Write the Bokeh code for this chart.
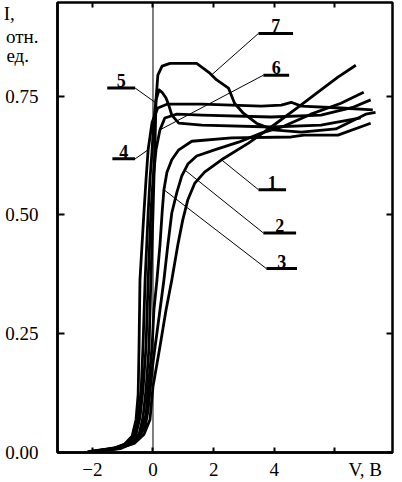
import numpy as np
from bokeh.plotting import figure
from bokeh.models import Range1d, FixedTicker, LinearAxis, Span
from bokeh.core.properties import value
from bokeh.embed import file_html
from bokeh.resources import INLINE

# ---- data: current-voltage curves (V in volts, I in relative units) ----
x1 = [-2.00, -1.18, -0.62, -0.30, -0.10, 0.00, 0.23, 0.43, 0.62, 0.82, 0.98, 1.15, 1.38, 1.70, 2.26, 3.15, 3.90, 4.79, 5.54, 6.10, 6.69]
y1 = [0.002, 0.008, 0.019, 0.038, 0.069, 0.139, 0.223, 0.300, 0.363, 0.437, 0.489, 0.532, 0.567, 0.590, 0.616, 0.651, 0.685, 0.727, 0.763, 0.790, 0.815]

x2 = [-2.00, -1.08, -0.52, -0.26, -0.16, -0.03, 0.07, 0.23, 0.36, 0.49, 0.62, 0.79, 0.95, 1.15, 1.44, 2.03, 2.82, 3.57, 4.33, 5.21, 6.20, 6.95]
y2 = [0.002, 0.011, 0.027, 0.053, 0.090, 0.174, 0.223, 0.300, 0.363, 0.437, 0.504, 0.548, 0.582, 0.607, 0.624, 0.637, 0.653, 0.672, 0.687, 0.712, 0.735, 0.758]

x3 = [-2.07, -1.18, -0.69, -0.39, -0.23, -0.13, -0.03, 0.03, 0.13, 0.23, 0.30, 0.36, 0.46, 0.62, 0.85, 1.28, 2.59, 4.56, 4.98, 6.10, 7.18]
y3 = [0.002, 0.011, 0.023, 0.044, 0.080, 0.153, 0.223, 0.300, 0.363, 0.437, 0.504, 0.553, 0.590, 0.616, 0.637, 0.655, 0.662, 0.664, 0.668, 0.668, 0.693]

x4 = [-2.16, -1.34, -0.95, -0.69, -0.56, -0.49, -0.46, -0.43, -0.30, -0.23, -0.16, -0.03, 0.16, 0.46, 1.61, 3.57, 4.23, 4.56, 4.89, 6.20, 7.25]
y4 = [0.002, 0.008, 0.017, 0.034, 0.069, 0.122, 0.223, 0.363, 0.504, 0.574, 0.637, 0.695, 0.725, 0.733, 0.733, 0.729, 0.731, 0.737, 0.729, 0.725, 0.721]

x5 = [-2.07, -1.28, -0.85, -0.62, -0.49, -0.39, -0.33, -0.26, -0.16, -0.10, -0.03, 0.03, 0.10, 0.20, 0.30, 0.43, 0.52, 0.62, 0.85, 1.61, 3.90, 5.54, 6.85]
y5 = [0.002, 0.008, 0.019, 0.038, 0.074, 0.132, 0.223, 0.363, 0.504, 0.574, 0.637, 0.700, 0.742, 0.763, 0.758, 0.746, 0.731, 0.710, 0.693, 0.689, 0.685, 0.689, 0.704]

x6 = [-2.00, -1.18, -0.79, -0.56, -0.43, -0.33, -0.23, -0.16, -0.07, 0.00, 0.10, 0.23, 0.39, 0.79, 1.61, 3.90, 5.54, 6.62, 7.18]
y6 = [0.002, 0.008, 0.019, 0.038, 0.074, 0.132, 0.223, 0.363, 0.504, 0.574, 0.637, 0.679, 0.704, 0.712, 0.710, 0.706, 0.710, 0.727, 0.742]

x7 = [-1.93, -1.08, -0.69, -0.46, -0.33, -0.23, -0.13, -0.07, 0.00, 0.03, 0.07, 0.10, 0.16, 0.30, 0.56, 1.44, 1.84, 2.10, 2.49, 2.69, 2.98, 3.41, 3.97, 4.89, 6.03, 7.02, 7.34]
y7 = [0.002, 0.008, 0.019, 0.038, 0.074, 0.132, 0.223, 0.363, 0.504, 0.574, 0.658, 0.742, 0.794, 0.813, 0.819, 0.819, 0.800, 0.784, 0.767, 0.735, 0.714, 0.693, 0.679, 0.674, 0.681, 0.712, 0.716]

curve_names = ["1", "2", "3", "4", "5", "6", "7"]
curves_x = [x1, x2, x3, x4, x5, x6, x7]
curves_y = [y1, y2, y3, y4, y5, y6, y7]

# ---- axes: tick marks and tick labels ----
x_tick_marks = [-2, 0, 2, 4, 6]
x_label_pos = [-2, 0, 2, 4, 7]
x_tick_labels = {-2: "\u22122", 0: "0", 2: "2", 4: "4", 7: "V, \u0412"}
y_tick_marks = [0.0, 0.25, 0.5, 0.75]
y_title_pos = [0.923, 0.875, 0.835]
NB = "\u00a0"
y_title_text = ["I," + NB * 5, "\u043e\u0442\u043d.", "\u0435\u0434." + NB * 2]

# ---- callout layout (label bars, and where the leader touches the curve) ----
bar_x0 = [3.48, 3.64, 3.74, -1.34, -1.51, 3.64, 3.48]
bar_x1 = [4.39, 4.72, 4.75, -0.59, -0.59, 4.49, 4.62]
bar_y = [0.553, 0.462, 0.387, 0.618, 0.767, 0.794, 0.882]
anchor_x = [2.26, 1.05, 0.36, -0.16, 0.09, 0.23, 1.93]

SERIF = "Liberation Serif"

p = figure(width=402, height=482, x_range=Range1d(-3.15, 7.90), y_range=Range1d(0, 0.947),
           output_backend="svg", toolbar_location=None,
           min_border_left=55, min_border_right=10, min_border_top=2, min_border_bottom=29)
p.xgrid.visible = False
p.ygrid.visible = False
p.outline_line_color = "black"
p.outline_line_width = 2.5
p.outline_line_alpha = 1.0
p.background_fill_color = "white"
p.border_fill_color = "white"

# bottom axis: labels on major ticks (no marks), marks on minor ticks
p.xaxis.ticker = FixedTicker(ticks=x_label_pos, minor_ticks=x_tick_marks)
p.xaxis.major_label_overrides = x_tick_labels
p.xaxis.major_label_text_font = SERIF
p.xaxis.major_label_text_font_size = "19px"
p.xaxis.major_label_text_color = "black"
p.xaxis.major_label_standoff = 0
p.xaxis.major_tick_line_color = None
p.xaxis.minor_tick_in = 5
p.xaxis.minor_tick_out = 0
p.xaxis.minor_tick_line_width = 2
p.xaxis.minor_tick_line_color = "black"
p.xaxis.axis_line_width = 2.5

# left axis: numeric labels + axis title lines, marks on minor ticks
y_labels = {t: "%.2f" % t for t in y_tick_marks}
for pos, txt in zip(y_title_pos, y_title_text):
    y_labels[pos] = txt
p.yaxis.ticker = FixedTicker(ticks=y_tick_marks + y_title_pos, minor_ticks=y_tick_marks)
p.yaxis.major_label_overrides = y_labels
p.yaxis.major_label_text_font = SERIF
p.yaxis.major_label_text_font_size = "19px"
p.yaxis.major_label_text_color = "black"
p.yaxis.major_label_standoff = 13
p.yaxis.major_tick_line_color = None
p.yaxis.minor_tick_in = 7
p.yaxis.minor_tick_out = 0
p.yaxis.minor_tick_line_width = 2
p.yaxis.minor_tick_line_color = "black"
p.yaxis.axis_line_width = 2.5

# mirrored tick axes (marks only)
top = LinearAxis(ticker=FixedTicker(ticks=x_tick_marks), major_label_overrides={t: "" for t in x_tick_marks},
                 major_label_text_font_size="0px", major_label_standoff=0,
                 major_tick_in=5, major_tick_out=0, major_tick_line_width=2,
                 minor_tick_line_color=None, axis_line_color=None)
right = LinearAxis(ticker=FixedTicker(ticks=y_tick_marks), major_label_overrides={t: "" for t in y_tick_marks},
                   major_label_text_font_size="0px", major_label_standoff=0,
                   major_tick_in=6, major_tick_out=0, major_tick_line_width=2,
                   minor_tick_line_color=None, axis_line_color=None)
p.add_layout(top, "above")
p.add_layout(right, "right")

# thin vertical line at V = 0
p.add_layout(Span(location=0, dimension="height", line_color="black", line_width=1))

# curves
for cx, cy in zip(curves_x, curves_y):
    p.line(cx, cy, line_color="black", line_width=2.8, line_join="round")

# callouts
lead_x0, lead_y0, lead_x1, lead_y1 = [], [], [], []
for i in range(len(curve_names)):
    ax = anchor_x[i]
    ay = float(np.interp(ax, curves_x[i], curves_y[i]))
    sx = bar_x1[i] if bar_x1[i] < ax else bar_x0[i]
    lead_x0.append(sx); lead_y0.append(bar_y[i]); lead_x1.append(ax); lead_y1.append(ay)
p.segment(lead_x0, lead_y0, lead_x1, lead_y1, line_color="black", line_width=1)
p.segment(bar_x0, bar_y, bar_x1, bar_y, line_color="black", line_width=3)
label_x = [(a + b) / 2 for a, b in zip(bar_x0, bar_x1)]
p.text(label_x, bar_y, text=curve_names, text_font=value(SERIF), text_font_style="bold",
       text_font_size="18px", text_align="center", text_baseline="bottom", text_color="black",
       y_offset=-1)

open("out.html", "w").write(file_html(p, INLINE))
